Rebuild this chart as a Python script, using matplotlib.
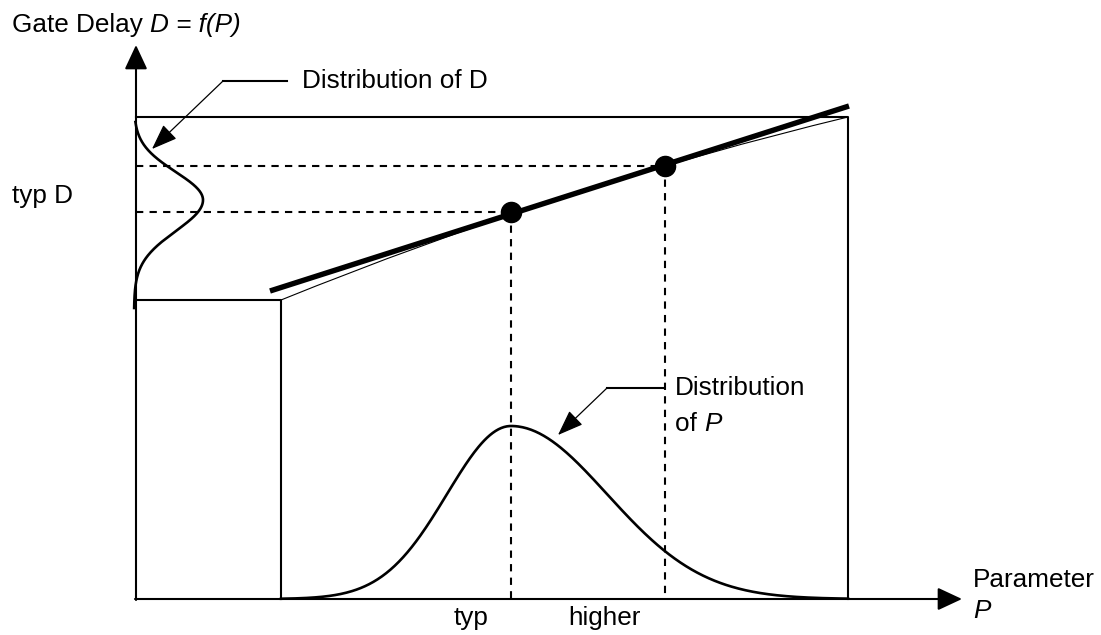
import numpy as np
import matplotlib.pyplot as plt
from matplotlib.path import Path
from matplotlib.patches import PathPatch

plt.rcParams['font.family'] = ['Liberation Sans', 'DejaVu Sans']

# diagram values (pixel units of the sketch, y grows downward)
origin = [136, 599]
y_axis_top = 45
x_axis_end = 962
box_top = 117          # top edge of the outer box
box_right = 848
step_d = 300           # level of f(P) at the left end of the P range
step_p = 281

# linear approximation of f(P)
lin_p = [270, 849]
lin_d = [291, 106]
# the real, slightly curved f(P): start, bezier control, end
curve_p = [281, 563.5, 848]
curve_d = [300, 185.5, 117]

# operating points: typ and higher
op_p = [511, 665]
op_d = [212, 166]
op_labels = ['typ', 'higher']
op_label_x = [471, 604]

# distribution of P: peak, height, left / right widths
dist_p_peak = 511
dist_p_height = 173
dist_p_sigma = [64, 96]
# distribution of D: peak, height, upper / lower widths
dist_d_peak = 200
dist_d_height = 67
dist_d_sigma = [28, 31]

fig = plt.figure(figsize=(11.01, 6.35), dpi=100)
ax = fig.add_axes([0, 0, 1, 1])
ax.set_xlim(0, 1101)
ax.set_ylim(635, 0)
ax.axis('off')

lw = 1.5
lw_curve = 1.9
fs = 18.8

# axes with arrows
ax.annotate('', xy=(origin[0], y_axis_top), xytext=(origin[0], origin[1] + 1),
            arrowprops=dict(arrowstyle='-|>,head_length=0.75,head_width=0.35',
                            mutation_scale=20, lw=lw, color='black',
                            shrinkA=0, shrinkB=0))
ax.annotate('', xy=(x_axis_end, origin[1]), xytext=(origin[0] - 1, origin[1]),
            arrowprops=dict(arrowstyle='-|>,head_length=0.75,head_width=0.35',
                            mutation_scale=20, lw=lw, color='black',
                            shrinkA=0, shrinkB=0))

# box lines
ax.plot([origin[0], box_right, box_right], [box_top, box_top, origin[1]], color='black', lw=lw)
ax.plot([origin[0], step_p, step_p], [step_d, step_d, origin[1]], color='black', lw=lw)

# thin curved f(P)
verts = list(zip(curve_p, curve_d))
ax.add_patch(PathPatch(Path(verts, [Path.MOVETO, Path.CURVE3, Path.CURVE3]),
                       fc='none', ec='black', lw=0.8))
# thick linear f(P)
ax.plot(lin_p, lin_d, color='black', lw=3.9, solid_capstyle='butt')

# dashed projections
for p, d in zip(op_p, op_d):
    ax.plot([origin[0], p], [d, d], color='black', lw=lw, ls=(0, (3.5, 3)))
    ax.plot([p, p], [d, origin[1]], color='black', lw=lw, ls=(0, (3.5, 3)))
ax.plot(op_p, op_d, 'o', color='black', ms=14.5, zorder=5)

# distribution of P
xp = np.linspace(step_p, box_right, 400)
sig = np.where(xp < dist_p_peak, dist_p_sigma[0], dist_p_sigma[1])
yp = origin[1] - dist_p_height * np.exp(-(xp - dist_p_peak) ** 2 / (2 * sig ** 2))
ax.plot(xp, yp, color='black', lw=lw_curve)

# distribution of D
yd = np.linspace(122, 308, 400)
sig = np.where(yd < dist_d_peak, dist_d_sigma[0], dist_d_sigma[1])
xd = origin[0] - 2 + (dist_d_height + 2) * np.exp(-(yd - dist_d_peak) ** 2 / (2 * sig ** 2))
ax.plot(xd, yd, color='black', lw=lw_curve)

# labels
def label(x, y, plain, ital=None, **kw):
    t = ax.text(x, y, plain, fontsize=fs, va='baseline', **kw)
    if ital:
        ax.annotate(ital, xy=(1, 0), xycoords=t, fontsize=fs, style='italic',
                    va='bottom', ha='left')
    return t

label(12, 32, 'Gate Delay ', 'D = f(P)')
label(12, 203, 'typ D')
label(302, 88, 'Distribution of D')
label(675, 395, 'Distribution')
label(675, 431, 'of ', 'P')
label(973, 587, 'Parameter')
ax.text(973, 618, 'P', fontsize=fs, va='baseline', style='italic')
for lab, x in zip(op_labels, op_label_x):
    label(x, 625, lab, ha='center')

# leader arrows
head = dict(arrowstyle='-|>,head_length=0.8,head_width=0.3', mutation_scale=20,
            lw=0.9, color='black', shrinkA=0, shrinkB=0)
ax.plot([223, 287], [81, 81], color='black', lw=lw)
ax.annotate('', xy=(152, 149), xytext=(223, 81), arrowprops=head)
ax.plot([607, 664], [388, 388], color='black', lw=lw)
ax.annotate('', xy=(558, 435), xytext=(607, 388), arrowprops=head)

fig.savefig('out.png', dpi=100)
